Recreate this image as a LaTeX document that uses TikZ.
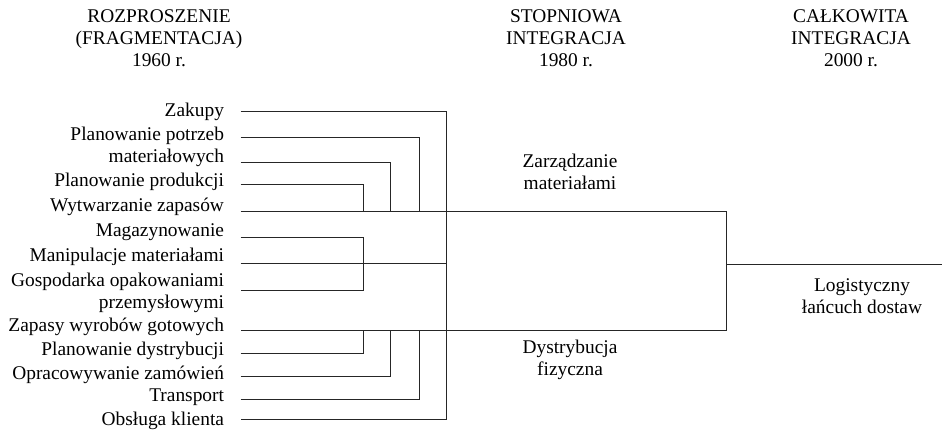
\documentclass[tikz,border=0pt]{standalone}
\usepackage{fontspec}
\setmainfont{Liberation Serif}
\tikzset{
  lab/.style={font=\fontsize{14.55}{16.4}\selectfont, inner sep=0pt, outer sep=0pt},
  conn/.style={line width=0.95pt, draw=black!85}
}
\begin{document}
\begin{tikzpicture}[x=0.75pt,y=-0.75pt]
\useasboundingbox (0,0) rectangle (942,433);
% headers
\node[lab, align=center, anchor=north] (h1) at (159,9.9) {ROZPROSZENIE\\(FRAGMENTACJA)\\1960 r.};
\node[lab, align=center, anchor=north] (h2) at (566,9.9) {STOPNIOWA\\INTEGRACJA\\1980 r.};
\node[lab, align=center, anchor=north] (h3) at (851,9.9) {CAŁKOWITA\\INTEGRACJA\\2000 r.};
% left labels
\node[lab, anchor=base east] (l1) at (224,116) {Zakupy};
\node[lab, align=right, anchor=north east] (l2) at (224,127.4) {Planowanie potrzeb\\materiałowych};
\node[lab, anchor=base east] (l4) at (224,186.7) {Planowanie produkcji};
\node[lab, anchor=base east] (l5) at (224,211.7) {Wytwarzanie zapasów};
\node[lab, anchor=base east] (l6) at (224,236.7) {Magazynowanie};
\node[lab, anchor=base east] (l7) at (224,261.7) {Manipulacje materiałami};
\node[lab, align=right, anchor=north east] (l8) at (224,273.4) {Gospodarka opakowaniami\\przemysłowymi};
\node[lab, anchor=base east] (l10) at (224,331) {Zapasy wyrobów gotowych};
\node[lab, anchor=base east] (l11) at (224,355.7) {Planowanie dystrybucji};
\node[lab, anchor=base east] (l12) at (224,379) {Opracowywanie zamówień};
\node[lab, anchor=base east] (l13) at (224,401.7) {Transport};
\node[lab, anchor=base east] (l14) at (224,425) {Obsługa klienta};
% middle and right labels
\node[lab, align=center, anchor=north] (zm) at (570,154) {Zarządzanie\\materiałami};
\node[lab, align=center, anchor=north] (df) at (570,340) {Dystrybucja\\fizyczna};
\node[lab, align=center, anchor=north] (ld) at (862,278.4) {Logistyczny\\łańcuch dostaw};
% line start coordinates
\coordinate (s1) at (240.5,111.5);
\coordinate (s2) at (240.5,137.5);
\coordinate (s3) at (240.5,162.5);
\coordinate (s4) at (240.5,184.5);
\coordinate (s5) at (240.5,211.5);
\coordinate (s6) at (240.5,237.5);
\coordinate (s7) at (240.5,263.5);
\coordinate (s8) at (240.5,290.5);
\coordinate (s10) at (240.5,330.5);
\coordinate (s11) at (240.5,353.5);
\coordinate (s12) at (240.5,376.5);
\coordinate (s13) at (240.5,399.5);
\coordinate (s14) at (240.5,419.5);
% junction coordinates
\coordinate (ja) at (363.5,211.5);
\coordinate (jb) at (390.5,211.5);
\coordinate (jc) at (419.5,211.5);
\coordinate (jd) at (446.5,263.5);
\coordinate (je) at (363.5,330.5);
\coordinate (jf) at (390.5,330.5);
\coordinate (jg) at (419.5,330.5);
\coordinate (k1) at (363.5,263.5);
\coordinate (rt) at (726.5,211.5);
\coordinate (rb) at (726.5,330.5);
\coordinate (rm) at (726.5,264.5);
\coordinate (re) at (942,264.5);
% connectors
\draw[conn] (s1) -| (jd) |- (s14);
\draw[conn] (s2) -| (jc);
\draw[conn] (s3) -| (jb);
\draw[conn] (s4) -| (ja);
\draw[conn] (s5) -- (rt) -- (rb) -- (s10);
\draw[conn] (s6) -| (k1) |- (s8);
\draw[conn] (s7) -- (jd);
\draw[conn] (s11) -| (je);
\draw[conn] (s12) -| (jf);
\draw[conn] (s13) -| (jg);
\draw[conn] (rm) -- (re);
\end{tikzpicture}
\end{document}
